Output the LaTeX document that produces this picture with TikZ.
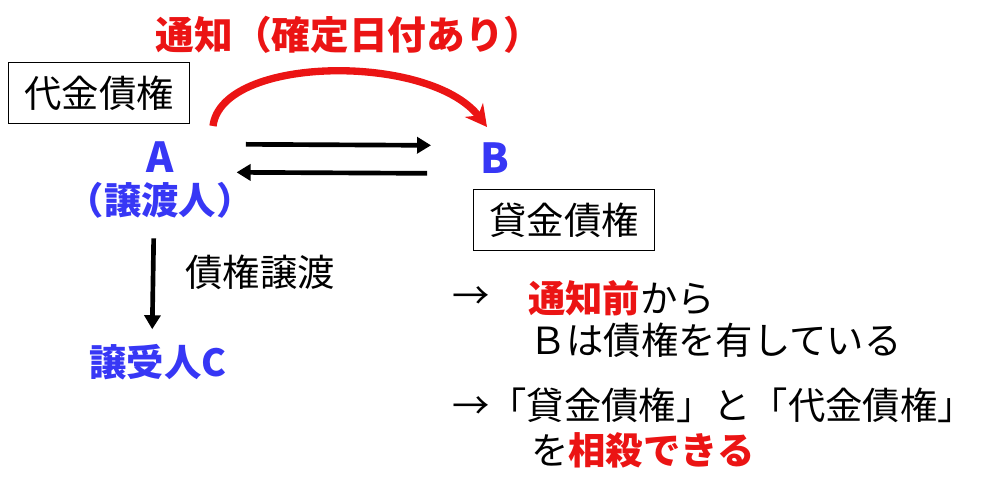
\documentclass[tikz,border=0pt]{standalone}
\usepackage{fontspec}
\setmainfont{Noto Sans CJK JP}
\usetikzlibrary{arrows.meta}
\definecolor{notered}{RGB}{235,20,20}
\definecolor{partyblue}{RGB}{55,55,245}
\begin{document}
\begin{tikzpicture}[x=0.75pt, y=-0.75pt,
  every node/.style={inner sep=0pt, font=\fontsize{28}{33}\selectfont},
  claim/.style={draw, line width=1.1pt, minimum width=136pt, minimum height=46pt},
  party/.style={text=partyblue, font=\fontsize{28}{33}\selectfont\bfseries},
  deal/.style={line width=3.5pt, -{Triangle[length=10.5pt, width=12pt]}},
  notify/.style={draw=notered, line width=5.5pt, -{Stealth[length=16pt, width=17pt]}}]
  \useasboundingbox (0,0) rectangle (1007,498);

  \node[text=notered, font=\fontsize{29}{34}\selectfont\bfseries] (title) at (349,35) {通知（確定日付あり）};
  \node[claim] (priceclaim) at (99,93) {代金債権};
  \node[claim] (loanclaim) at (564,220) {貸金債権};

  \node[party, font=\fontsize{31}{35}\selectfont\bfseries] (A) at (160,157) {A};
  \node[party] (assignor) at (160,200) {（譲渡人）};
  \node[party, font=\fontsize{31}{35}\selectfont\bfseries] (B) at (495,158) {B};
  \node[party] (assignee) at (158,362) {譲受人C};
  \node (transfer) at (260,272) {債権譲渡};

  \coordinate (notifyS) at (213,126);
  \coordinate (notifyE) at (487,127);
  \draw[notify] (notifyS) .. controls (222,55) and (430,53) .. (notifyE);

  \draw[deal] ([xshift=54pt, yshift=9.5pt]A.east) -- ([xshift=-37pt, yshift=9.5pt]B.west);
  \draw[deal] ([xshift=-40pt, yshift=-11.5pt]B.west) -- ([xshift=47pt, yshift=-11.5pt]A.east);
  \draw[deal, shorten <=15pt, shorten >=11pt] ([xshift=-4.5pt]assignor.south) -- ([xshift=-4.5pt]assignee.north);

  \node[anchor=west] (arrow1) at (452,298) {→};
  \node[anchor=west] (note1) at (528,298) {\textcolor{notered}{\bfseries 通知前}から};
  \node[anchor=west] (note2) at (529,340) {Ｂは債権を有している};
  \node[anchor=west] (note3) at (452,405) {→「貸金債権」と「代金債権」};
  \node[anchor=west] (note4) at (531,450) {を\textcolor{notered}{\bfseries 相殺できる}};
\end{tikzpicture}
\end{document}
